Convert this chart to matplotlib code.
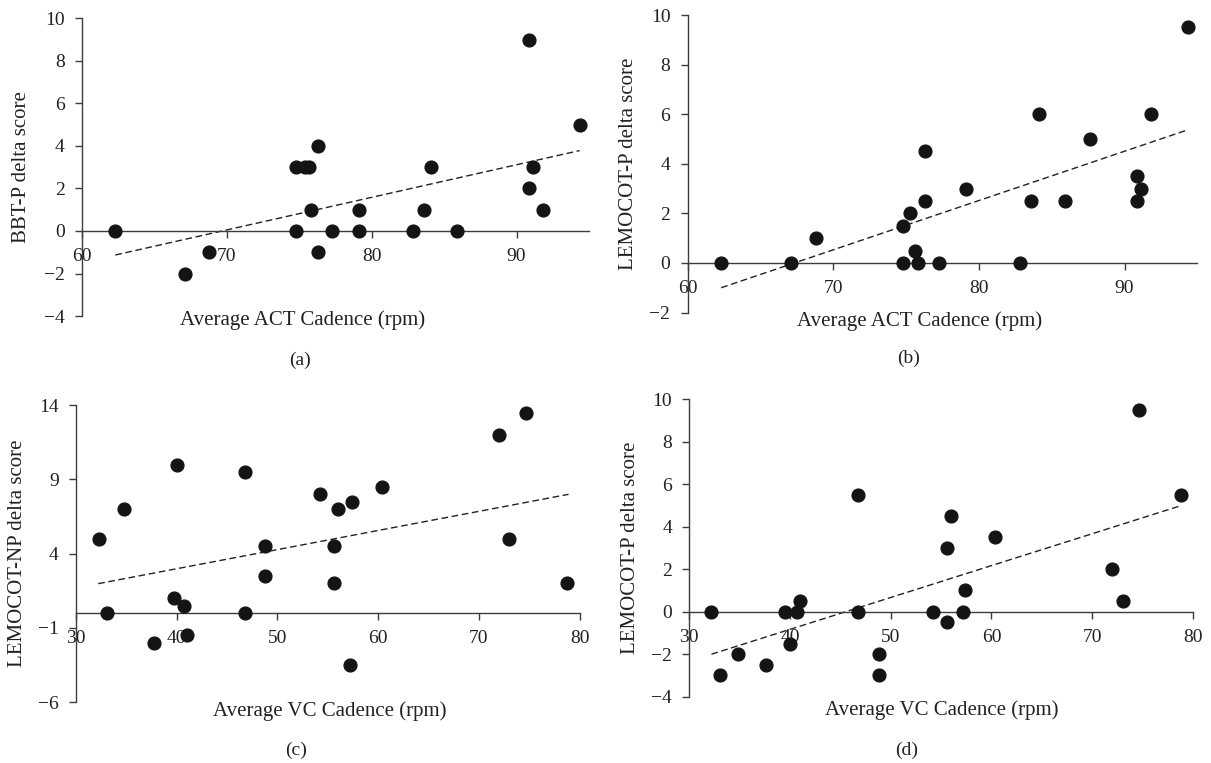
import numpy as np
import matplotlib
matplotlib.use('Agg')
import matplotlib.pyplot as plt

# panel (a): ACT cadence vs BBT-P
act_x_a = [62.3, 67.1, 68.8, 74.8, 74.8, 75.4, 75.65, 75.8, 76.3, 76.3, 77.25,
           79.1, 79.1, 82.85, 83.6, 84.1, 85.9, 90.85, 90.85, 91.15, 91.85, 94.35]
bbt_y_a = [0, -2, -1, 3, 0, 3, 3, 1, 4, -1, 0,
           1, 0, 0, 1, 3, 0, 9, 2, 3, 1, 5]
trend_x_a = [62.3, 94.35]
trend_y_a = [-1.13, 3.78]

# panel (b): ACT cadence vs LEMOCOT-P
act_x_b = [62.3, 67.1, 68.8, 74.8, 74.8, 75.3, 75.6, 75.8, 76.3, 76.3, 77.25,
           79.1, 82.85, 83.6, 84.1, 85.9, 87.6, 90.85, 90.85, 91.15, 91.85, 94.35]
lem_y_b = [0, 0, 1, 1.5, 0, 2, 0.5, 0, 4.5, 2.5, 0,
           3, 0, 2.5, 6, 2.5, 5, 3.5, 2.5, 3, 6, 9.5]
trend_x_b = [62.3, 94.2]
trend_y_b = [-1.0, 5.34]

# panel (c): VC cadence vs LEMOCOT-NP
vc_x_c = [32.3, 33.1, 34.8, 37.7, 39.7, 40.0, 40.7, 41.0, 46.8, 46.8, 48.8, 48.8,
          54.2, 55.6, 55.6, 56.0, 57.2, 57.4, 60.4, 72.0, 73.0, 74.7, 78.8]
lemnp_y_c = [5, 0, 7, -2, 1, 10, 0.5, -1.5, 9.5, 0, 4.5, 2.5,
             8, 4.5, 2, 7, -3.5, 7.5, 8.5, 12, 5, 13.5, 2]
trend_x_c = [32.2, 78.9]
trend_y_c = [1.98, 8.0]

# panel (d): VC cadence vs LEMOCOT-P
vc_x_d = [32.2, 33.0, 34.8, 37.6, 39.5, 40.0, 40.65, 41.0, 46.8, 46.8, 48.8, 48.8,
          54.2, 55.6, 55.6, 56.0, 57.2, 57.4, 60.4, 72.0, 73.05, 74.65, 78.8]
lem_y_d = [0, -3, -2, -2.5, 0, -1.5, 0, 0.5, 5.5, 0, -2, -3,
           0, -0.5, 3, 4.5, 0, 1, 3.5, 2, 0.5, 9.5, 5.5]
trend_x_d = [32.2, 78.8]
trend_y_d = [-2.0, 4.99]

plt.rcParams['font.family'] = ['Liberation Serif', 'DejaVu Serif']
axis_col = '#3c3c3c'
dot_col = '#141414'

fig = plt.figure(figsize=(12.11, 7.63), dpi=100)

panels = [
  # rect, x, y, tx, ty, xlim, xticks, ylim, yticks, xlabel, ylabel, caption, xlab_pos, cap_pos, ylab_x
  ([0.0677, 0.5858, 0.4187, 0.3902], act_x_a, bbt_y_a, trend_x_a, trend_y_a,
   (60, 95), [60, 70, 80, 90], (-4, 10), np.arange(-4, 11, 2),
   'Average ACT Cadence (rpm)', 'BBT-P delta score', '(a)', (303, 320), (300, 360), -0.100),
  ([0.5679, 0.5904, 0.4208, 0.3899], act_x_b, lem_y_b, trend_x_b, trend_y_b,
   (60, 95), [60, 70, 80, 90], (-2, 10), np.arange(-2, 11, 2),
   'Average ACT Cadence (rpm)', 'LEMOCOT-P delta score', '(b)', (920, 321), (909, 358), -0.098),
  ([0.0628, 0.0799, 0.4158, 0.3889], vc_x_c, lemnp_y_c, trend_x_c, trend_y_c,
   (30, 80), [30, 40, 50, 60, 70, 80], (-6, 14), [-6, -1, 4, 9, 14],
   'Average VC Cadence (rpm)', 'LEMOCOT-NP delta score', '(c)', (330, 711), (296, 750), -0.097),
  ([0.5692, 0.0869, 0.4158, 0.3898], vc_x_d, lem_y_d, trend_x_d, trend_y_d,
   (30, 80), [30, 40, 50, 60, 70, 80], (-4, 10), np.arange(-4, 11, 2),
   'Average VC Cadence (rpm)', 'LEMOCOT-P delta score', '(d)', (942, 710), (907, 750), -0.098),
]

W, H = 1211.0, 763.0

for rect, x, y, tx, ty, xlim, xt, ylim, yt, xlab, ylab, cap, xlp, cp, ylx in panels:
  ax = fig.add_axes(rect)
  ax.plot(tx, ty, color='#222222', lw=1.0, dashes=(4.8, 2.6), zorder=2)
  ax.plot(x, y, 'o', color=dot_col, markersize=9.2, zorder=3, clip_on=False)
  ax.set_xlim(*xlim)
  ax.set_ylim(*ylim)
  ax.set_xticks(xt)
  ax.set_yticks(yt)
  for s in ['top', 'right']:
    ax.spines[s].set_visible(False)
  ax.spines['bottom'].set_position(('data', 0))
  for s in ['left', 'bottom']:
    ax.spines[s].set_color(axis_col)
    ax.spines[s].set_linewidth(1.0)
  ax.tick_params(axis='both', direction='out', length=5, width=1.0, color=axis_col,
                 labelsize=14, pad=7.5, labelcolor='#222222')
  ax.set_ylabel(ylab, fontsize=15, color='#222222')
  ax.yaxis.set_label_coords(ylx, 0.5)
  fig.text(xlp[0] / W, 1 - xlp[1] / H, xlab, fontsize=15, color='#222222',
           ha='center', va='center')
  fig.text(cp[0] / W, 1 - cp[1] / H, cap, fontsize=14, color='#222222',
           ha='center', va='center')

plt.savefig('out.png', dpi=100)
plt.close()
